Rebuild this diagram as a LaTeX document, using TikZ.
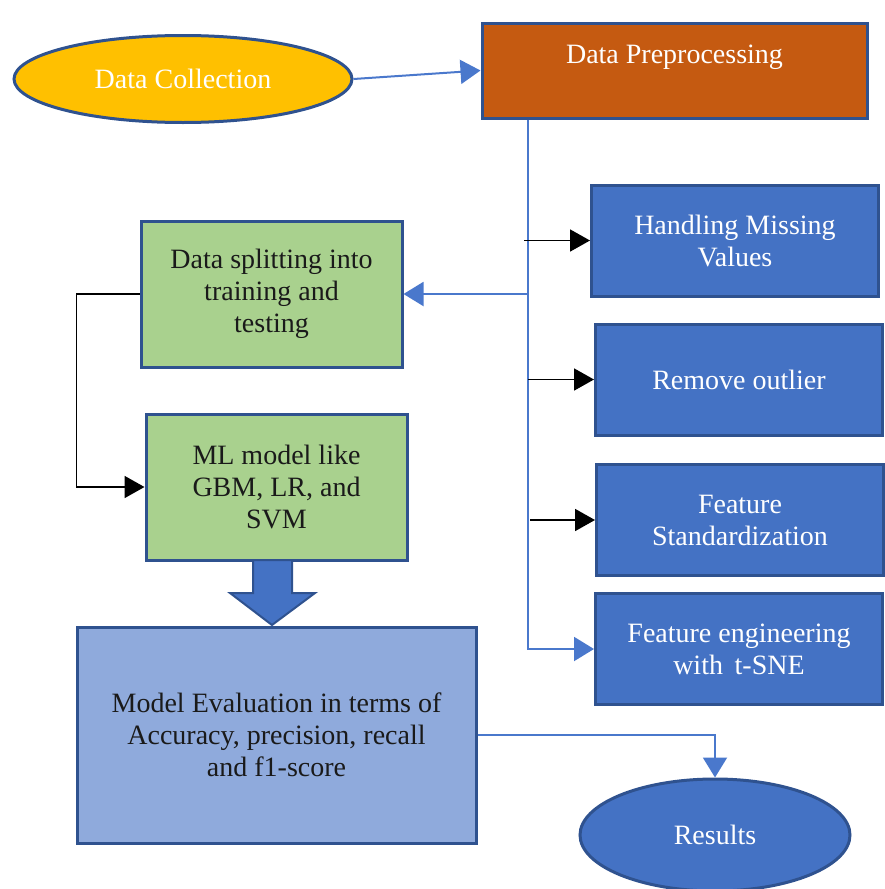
\documentclass[tikz,border=0pt]{standalone}
\usepackage{fontspec}
\setmainfont{Liberation Serif}
\usetikzlibrary{arrows.meta,shapes.geometric}
\definecolor{edgeblue}{HTML}{2F528F}
\definecolor{midblue}{HTML}{4472C4}
\definecolor{linkblue}{HTML}{4A78CC}
\definecolor{lightblue}{HTML}{8FAADC}
\definecolor{gold}{HTML}{FFC000}
\definecolor{rust}{HTML}{C55A11}
\definecolor{leaf}{HTML}{A9D18E}
\definecolor{ink}{HTML}{1A1A1A}
\begin{document}
\begin{tikzpicture}[x=1pt,y=-1pt,
  font=\fontsize{28}{32}\selectfont,
  box/.style={draw=edgeblue, line width=3pt, rectangle, align=center, inner sep=0pt},
  oval/.style={draw=edgeblue, line width=3pt, ellipse, align=center, inner sep=0pt},
  stepbox/.style={box, fill=midblue, text=white, minimum width=287pt, minimum height=111pt},
  greenbox/.style={box, fill=leaf, text=ink, minimum width=261pt, minimum height=146pt},
  blueline/.style={draw=linkblue, line width=2pt, -{Triangle[length=20pt,width=24pt]}},
  blackarrow/.style={draw=black, line width=1.8pt, -{Triangle[length=20pt,width=22pt]}}]
\useasboundingbox (0,0) rectangle (885,889);

% top row
\node[oval, fill=gold, text=white, minimum width=338pt, minimum height=87pt] (dc) at (183,79) {Data Collection};
\node[box, fill=rust, minimum width=385pt, minimum height=95pt,
  label={[text=white, yshift=13pt]center:Data Preprocessing}] (dp) at (674.5,70.5) {};

% preprocessing steps
\node[stepbox] (hmv) at (735,240.5) {Handling Missing\\Values};
\node[stepbox] (ro) at (739,379.5) {Remove outlier};
\node[stepbox] (fs) at (740,520) {Feature\\Standardization};
\node[stepbox] (fe) at (739,649) {Feature engineering\\with\, t-SNE};

% modelling column
\node[greenbox] (ds) at (271.5,294) {Data splitting into\\training and\\testing};
\node[greenbox] (ml) at (276.5,487) {ML model like\\GBM, LR, and\\SVM};
\node[box, fill=lightblue, text=ink, minimum width=399pt, minimum height=216pt] (me) at (276.5,735)
  {Model Evaluation in terms of\\Accuracy, precision, recall\\and f1-score};
\node[oval, fill=midblue, text=white, minimum width=270pt, minimum height=112pt] (res) at (715,835) {Results};

% block arrow from the model to its evaluation
\draw[draw=edgeblue, fill=midblue, line width=2pt, line join=miter]
  (253,560) -- (253,593) -- (230,593) -- (272,625) -- (315,593) -- (292,593) -- (292,560) -- cycle;

% connectors
\coordinate (spine) at (528,118);
\draw[blueline] (dc.east) -- (dp.west);
\draw[blueline] (dp.south -| spine) -- (fe.west -| spine) -- (fe.west);
\draw[blueline] (ds.east -| spine) -- (ds.east);
\draw[blackarrow] ([xshift=-4pt]hmv.west -| spine) -- (hmv.west);
\draw[blackarrow] (ro.west -| spine) -- (ro.west);
\draw[blackarrow] ([xshift=2pt]fs.west -| spine) -- (fs.west);
\draw[blackarrow] (ds.west) -- ++(-63,0) |- (ml.west);
\draw[blueline] (me.east) -| (res.north);
\end{tikzpicture}
\end{document}
